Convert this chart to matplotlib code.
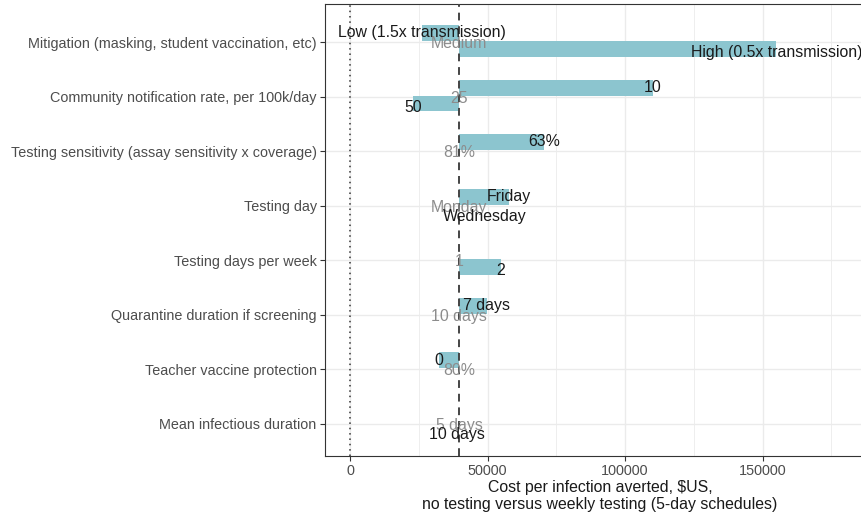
import matplotlib
matplotlib.use("Agg")
import matplotlib.pyplot as plt
from matplotlib.ticker import MultipleLocator

plt.rcParams["font.family"] = ["Liberation Sans", "DejaVu Sans"]

# Parameters, top to bottom
PARAMS = [
    "Mitigation (masking, student vaccination, etc)",
    "Community notification rate, per 100k/day",
    "Testing sensitivity (assay sensitivity x coverage)",
    "Testing day",
    "Testing days per week",
    "Quarantine duration if screening",
    "Teacher vaccine protection",
    "Mean infectious duration",
]
BASE_COST = 39750  # cost per infection averted in the base case
BASE_LABELS = ["Medium", "25", "81%", "Monday", "1", "10 days", "80%", "5 days"]

# scenario shown above the parameter line
UPPER_LABELS = ["Low (1.5x transmission)", "10", "63%", "Friday", "", "7 days", "0", ""]
UPPER_COST = [26000, 110000, 70500, 57800, None, 49800, 32400, None]

# scenario shown below the parameter line
LOWER_LABELS = ["High (0.5x transmission)", "50", "", "Wednesday", "2", "", "", "10 days"]
LOWER_COST = [155000, 23000, None, 49000, 54900, None, None, 39000]
LOWER_BAR = [True, True, False, False, True, False, False, False]

BAR_COLOR = "#8CC5CF"
GRID = "#EBEBEB"

fig = plt.figure(figsize=(8.62, 5.14), dpi=100)
ax = fig.add_axes([325 / 862, 58 / 514, 550 / 862, 452 / 514])

n = len(PARAMS)
ypos = [n - i for i in range(n)]
bh = 0.29

for y, uc, lc, show in zip(ypos, UPPER_COST, LOWER_COST, LOWER_BAR):
    if uc is not None:
        ax.barh(y + 0.165, uc - BASE_COST, left=BASE_COST, height=bh,
                color=BAR_COLOR, zorder=2)
    if lc is not None and show:
        ax.barh(y - 0.125, lc - BASE_COST, left=BASE_COST, height=bh,
                color=BAR_COLOR, zorder=2)

ax.axvline(0, color="#333333", linestyle=(0, (1, 2.5)), linewidth=1.1, zorder=3)
ax.axvline(BASE_COST, color="#444444", linestyle=(0, (4, 3)), linewidth=1.4, zorder=3)

fs = 11.4
for y, lab in zip(ypos, BASE_LABELS):
    ax.text(BASE_COST, y - 0.03, lab, ha="center", va="center",
            fontsize=fs, color="#8C8C8C", zorder=4)
for y, lab, c in zip(ypos, UPPER_LABELS, UPPER_COST):
    if c is not None:
        ax.text(c, y + 0.17, lab, ha="center", va="center",
                fontsize=fs, color="#1A1A1A", zorder=5)
for y, lab, c in zip(ypos, LOWER_LABELS, LOWER_COST):
    if c is not None:
        ax.text(c, y - 0.19, lab, ha="center", va="center",
                fontsize=fs, color="#1A1A1A", zorder=5)

ax.set_xlim(-9100, 190900)
ax.set_ylim(0.41, 8.70)
ax.set_yticks(ypos)
ax.set_yticklabels(PARAMS)
ax.xaxis.set_major_locator(MultipleLocator(50000))
ax.xaxis.set_minor_locator(MultipleLocator(25000))
ax.set_xticks([0, 50000, 100000, 150000])
ax.set_xticklabels(["0", "50000", "100000", "150000"])

ax.grid(True, which="major", color=GRID, linewidth=1.0, zorder=0)
ax.grid(True, which="minor", axis="x", color=GRID, linewidth=0.6, zorder=0)
ax.set_axisbelow(True)

ax.tick_params(axis="both", which="major", length=3.5, width=0.8, color="#333333",
               labelsize=10.4, labelcolor="#4D4D4D", pad=2.5)
ax.tick_params(axis="x", which="minor", length=0)
for side, sp in ax.spines.items():
    sp.set_color("#333333")
    sp.set_linewidth(0.8)
ax.spines["right"].set_visible(False)

ax.set_xlabel("Cost per infection averted, $US,\nno testing versus weekly testing (5-day schedules)",
              fontsize=11.4, color="#1A1A1A", labelpad=1.5, linespacing=1.15)

fig.savefig("out.png", dpi=100)
